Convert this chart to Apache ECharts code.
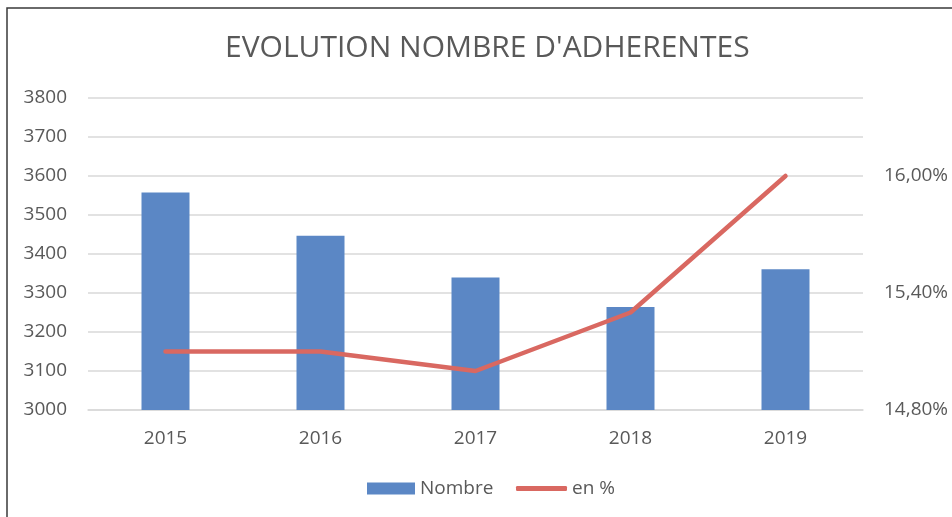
<!doctype html>
<html>
 <head>
  <meta charset="UTF-8">
  <script src="https://cdn.jsdelivr.net/npm/echarts@6/dist/echarts.min.js"></script>
  <title>Evolution nombre d'adherentes</title>
  <style>
   html, body { margin: 0; padding: 0; background: #fff; }
  </style>
 </head>
 <script type="text/javascript">
    var years = ['2015', '2016', '2017', '2018', '2019'];
    var nombre = [3558, 3447, 3340, 3264, 3361];
    var pourcent = [15.10, 15.10, 15.00, 15.30, 16.00];

    var loadData = function() {
        var myChart = echarts.init(document.getElementById('chart'));
        var font = 'Open Sans';
        var grey = '#595959';
        var legendText = { fontFamily: font, fontSize: 19, color: grey };
        myChart.setOption({
            animation: false,
            title: {
                text: "EVOLUTION NOMBRE D'ADHERENTES",
                left: 220,
                top: 28,
                textStyle: { fontFamily: font, fontSize: 30, fontWeight: 'normal', color: grey }
            },
            graphic: [{
                type: 'rect',
                shape: { x: 7, y: 8, width: 1000, height: 600 },
                style: { fill: 'none', stroke: '#3a3a3a', lineWidth: 1.5 },
                silent: true
            }],
            legend: [{
                left: 367,
                top: 479,
                padding: 0,
                itemWidth: 48,
                itemHeight: 12,
                textStyle: legendText,
                data: [{ name: 'Nombre', icon: 'rect' }]
            }, {
                left: 516,
                top: 479,
                padding: 0,
                itemWidth: 51,
                itemHeight: 5,
                textStyle: legendText,
                data: [{ name: 'en %', icon: 'roundRect' }]
            }],
            grid: { left: 88, right: 89, top: 98, bottom: 107 },
            xAxis: {
                type: 'category',
                data: years,
                axisLine: { lineStyle: { color: '#d9d9d9', width: 1.5 } },
                axisTick: { show: false },
                axisLabel: { fontFamily: font, fontSize: 19, color: grey, margin: 19 }
            },
            yAxis: [{
                type: 'value',
                min: 3000,
                max: 3800,
                interval: 100,
                axisLine: { show: false },
                axisTick: { show: false },
                splitLine: { lineStyle: { color: '#d9d9d9', width: 1.5 } },
                axisLabel: {
                    fontFamily: font, fontSize: 19, color: grey, margin: 21,
                    formatter: function (v) { return String(v); }
                }
            }, {
                type: 'value',
                min: 14.8,
                max: 16.4,
                interval: 0.6,
                axisLine: { show: false },
                axisTick: { show: false },
                splitLine: { show: false },
                axisLabel: {
                    fontFamily: font, fontSize: 19, color: grey, margin: 21,
                    showMaxLabel: false,
                    formatter: function (v) { return v.toFixed(2).replace('.', ',') + '%'; }
                }
            }],
            series: [{
                name: 'Nombre',
                type: 'bar',
                data: nombre,
                barWidth: 48,
                itemStyle: { color: '#5b87c5' }
            }, {
                name: 'en %',
                type: 'line',
                yAxisIndex: 1,
                data: pourcent,
                symbol: 'none',
                lineStyle: { color: '#d96861', width: 4.5, cap: 'round', join: 'round' },
                itemStyle: { color: '#d96861' }
            }]
        });
    }
 </script>
 <body onload="loadData()">
  <div id="chart" style="height: 517px; width: 952px; margin: 0"></div>
 </body>
</html>
